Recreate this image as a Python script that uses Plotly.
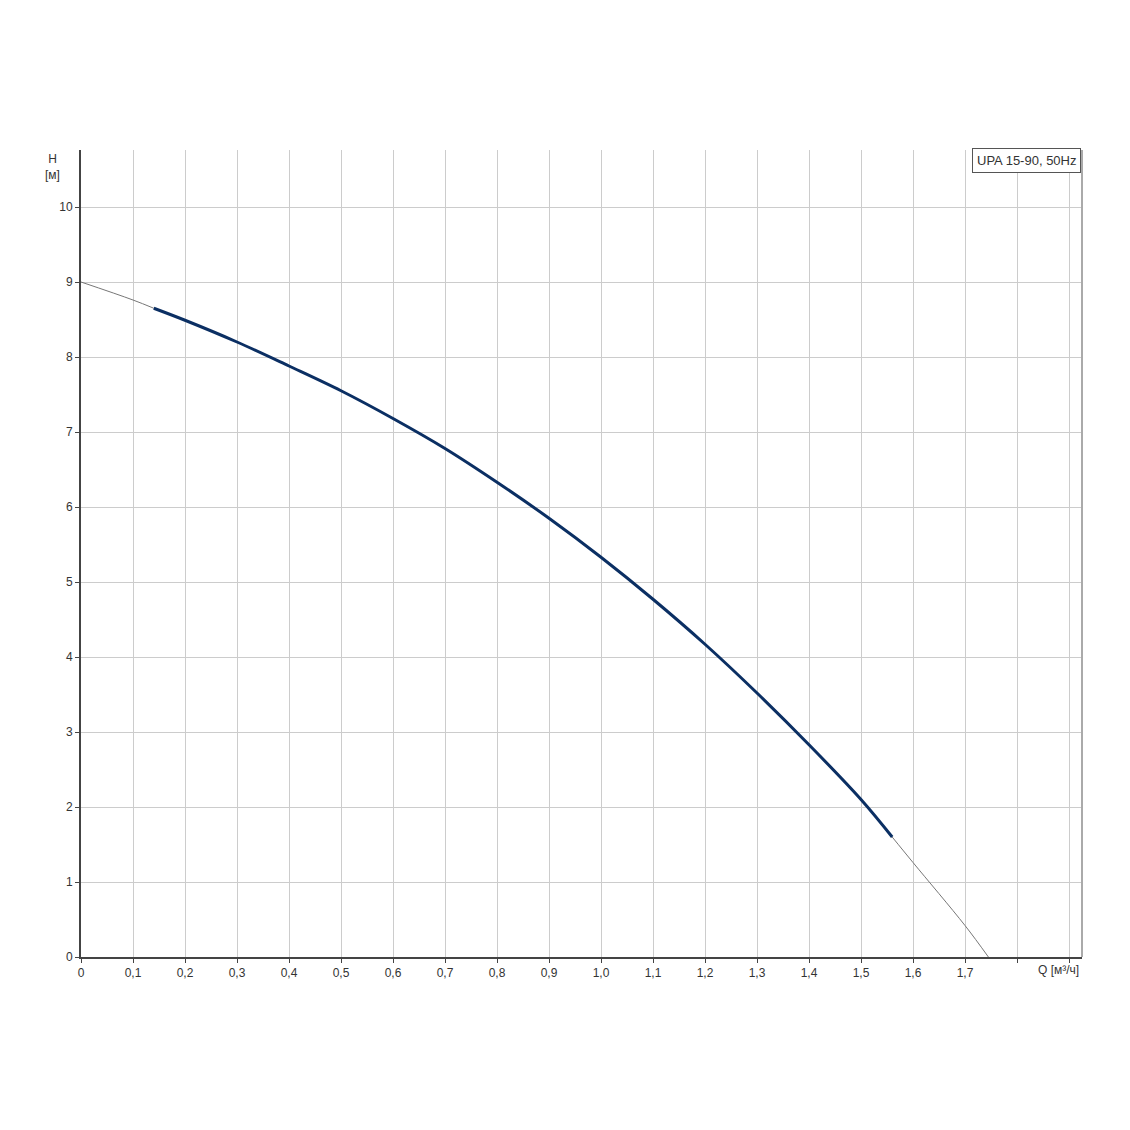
import plotly.graph_objects as go

# Data
q = [0.0, 0.1, 0.14, 0.2, 0.3, 0.4, 0.5, 0.6, 0.7, 0.8, 0.9, 1.0, 1.1, 1.2, 1.3, 1.4, 1.5, 1.56, 1.6, 1.7, 1.745]
h = [9.0, 8.76, 8.65, 8.49, 8.2, 7.88, 7.55, 7.18, 6.78, 6.33, 5.85, 5.33, 4.77, 4.17, 3.52, 2.83, 2.1, 1.6, 1.26, 0.42, 0.0]
op_start, op_end = 0.14, 1.56

x_ticks = [0, 0.1, 0.2, 0.3, 0.4, 0.5, 0.6, 0.7, 0.8, 0.9, 1.0, 1.1, 1.2, 1.3, 1.4, 1.5, 1.6, 1.7, 1.8, 1.9]
x_labels = ["0", "0,1", "0,2", "0,3", "0,4", "0,5", "0,6", "0,7", "0,8", "0,9", "1,0", "1,1", "1,2", "1,3", "1,4", "1,5", "1,6", "1,7", "", ""]
y_ticks = list(range(0, 11))
legend_label = "UPA 15-90, 50Hz"

font = "Liberation Sans, Arial, sans-serif"

fig = go.Figure()
q1 = [a for a in q if a <= op_start]
h1 = [b for a, b in zip(q, h) if a <= op_start]
q2 = [a for a in q if op_start <= a <= op_end]
h2 = [b for a, b in zip(q, h) if op_start <= a <= op_end]
q3 = [a for a in q if a >= op_end]
h3 = [b for a, b in zip(q, h) if a >= op_end]

for xs, ys, w, c in [(q1, h1, 1, "#777777"), (q3, h3, 1, "#777777"), (q2, h2, 3, "#0b2f63")]:
    fig.add_trace(go.Scatter(x=xs, y=ys, mode="lines",
                             line=dict(color=c, width=w, shape="spline"),
                             showlegend=False, hoverinfo="skip"))

fig.update_layout(
    width=1114, height=1114,
    paper_bgcolor="white", plot_bgcolor="white",
    margin=dict(l=73, r=40, t=142, b=165),
    font=dict(family=font, size=12, color="#333333"),
    showlegend=False,
)
fig.update_xaxes(range=[0, 1.925], tickvals=x_ticks, ticktext=x_labels,
                 showgrid=True, gridcolor="#cccccc", gridwidth=1,
                 showline=True, linecolor="#444444", linewidth=2,
                 ticks="outside", ticklen=4, tickcolor="#444444",
                 zeroline=False, tickfont=dict(size=12, color="#333333"))
fig.update_yaxes(range=[0, 10.76], tickvals=y_ticks,
                 showgrid=True, gridcolor="#cccccc", gridwidth=1,
                 showline=True, linecolor="#444444", linewidth=2,
                 ticks="outside", ticklen=4, tickcolor="#444444",
                 zeroline=False, tickfont=dict(size=12, color="#333333"))

# right border
fig.add_shape(type="line", xref="paper", yref="paper", x0=1, x1=1, y0=0, y1=1,
              line=dict(color="#aaaaaa", width=2))

fig.add_annotation(xref="paper", yref="paper", x=-0.028, y=1.0, text="H<br>[м]",
                   showarrow=False, xanchor="center", yanchor="top",
                   font=dict(size=12, color="#333333"), align="center")
fig.add_annotation(xref="x", yref="paper", x=1.88, y=0, yshift=-13, text="Q [м³/ч]",
                   showarrow=False, xanchor="center", yanchor="middle",
                   font=dict(size=12, color="#333333"))
fig.add_annotation(xref="paper", yref="paper", x=0.999, y=1.003, text=legend_label,
                   showarrow=False, xanchor="right", yanchor="top",
                   bordercolor="#555555", borderwidth=1, borderpad=4, bgcolor="white",
                   font=dict(size=13, color="#333333"))

fig.write_html("out.html")
